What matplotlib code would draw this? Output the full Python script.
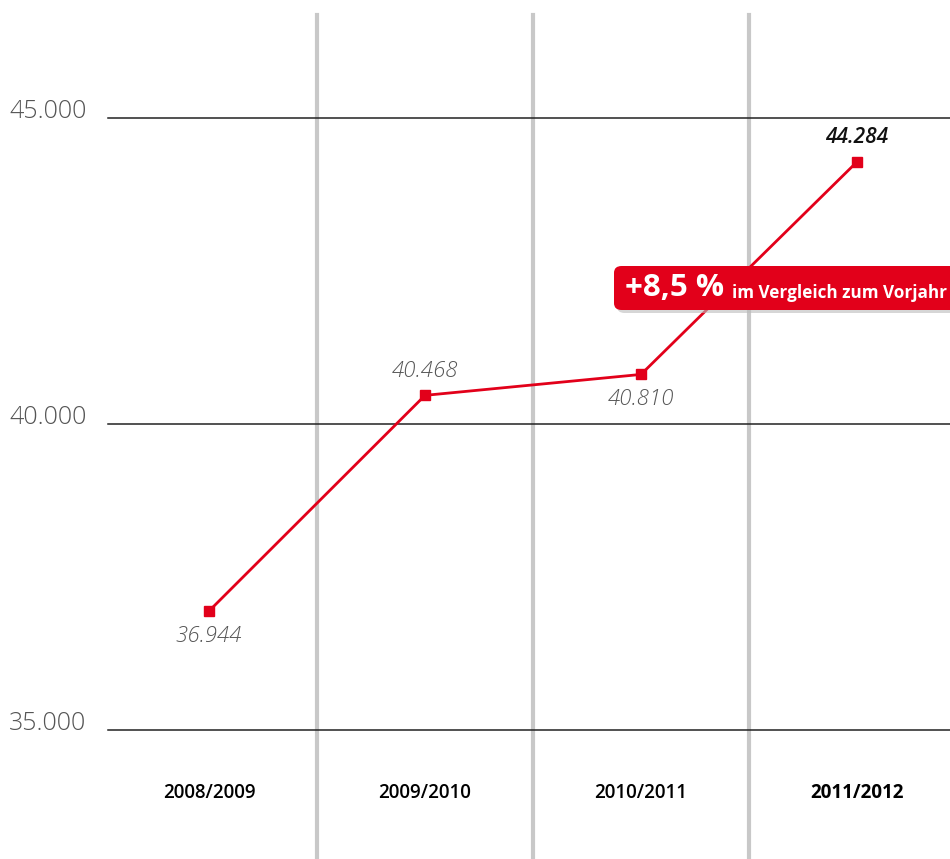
import matplotlib.pyplot as plt
from matplotlib.patches import FancyBboxPatch

# data
years = ['2008/2009', '2009/2010', '2010/2011', '2011/2012']
values = [36944, 40468, 40810, 44284]
value_labels = ['36.944', '40.468', '40.810', '44.284']
label_above = [False, True, False, True]
yticks = [35000, 40000, 45000]
ytick_labels = ['35.000', '40.000', '45.000']

red = '#e2001a'
W, H = 950, 859

fig = plt.figure(figsize=(W / 100, H / 100), dpi=100)
ax = fig.add_axes([0, 0, 1, 1])

# pixel layout: x=0 at px 209, step 216; y 45000 at px 118, 5000 per 306 px
step = 216.0
ax.set_xlim((0 - 209) / step, (W - 209) / step)
ax.set_ylim(35000 - (H - 730) / 306 * 5000, 45000 + 118 / 306 * 5000)
ax.axis('off')

# vertical separators
for xs in [0.5, 1.5, 2.5]:
    ax.axvline(xs, ymin=0, ymax=(H - 15) / H, color='#c8c8c8', lw=3, zorder=1)

# horizontal grid lines + labels
for yv, lab in zip(yticks, ytick_labels):
    ax.axhline(yv, xmin=108 / W, xmax=1, color='#222222', lw=1.1, zorder=2)
    ax.annotate(lab, xy=(0, yv), xycoords=('axes fraction', 'data'),
                xytext=(9, -6), textcoords='offset pixels', ha='left', va='bottom',
                fontsize=18, family='Open Sans', fontweight='light', color='#555555')

x = list(range(len(years)))
ax.plot(x, values, color=red, lw=2, zorder=4)
ax.plot(x, values, 's', color=red, ms=7, zorder=5)

for i, (v, lab, up) in enumerate(zip(values, value_labels, label_above)):
    last = i == len(values) - 1
    ax.annotate(lab, xy=(i, v), xytext=(0, 24 if up else -25), textcoords='offset pixels',
                ha='center', va='center', fontsize=16 if not last else 15,
                family='Open Sans', style='italic',
                fontweight='semibold' if last else 'light',
                color='#111111' if last else '#555555', zorder=6)

# category labels
for i, yr in enumerate(years):
    ax.text(i, 35000 - 63 / 306 * 5000, yr, ha='center', va='center', fontsize=13.5,
            family='Open Sans', fontweight='bold' if i == 3 else 'semibold', color='black')

# callout
shadow = FancyBboxPatch((617 / W, (H - 313) / H), (W - 614) / W + 0.02, 42 / H,
                        boxstyle='round,pad=0,rounding_size=0.008', transform=fig.transFigure,
                        fc='#bbbbbb', ec='none', alpha=0.6, zorder=7)
box = FancyBboxPatch((614 / W, (H - 310) / H), (W - 614) / W + 0.02, 44 / H,
                     boxstyle='round,pad=0,rounding_size=0.008', transform=fig.transFigure,
                     fc=red, ec='none', zorder=8)
ax.add_patch(shadow)
ax.add_patch(box)
fig.text(625 / W, (H - 288) / H, '+8,5 %', ha='left', va='center', fontsize=22.5,
         family='Open Sans', fontweight='bold', color='white', zorder=9)
fig.text(732 / W, (H - 293) / H, 'im Vergleich zum Vorjahr', ha='left', va='center',
         fontsize=12.3, family='Open Sans', fontweight='bold', color='white', zorder=9)

fig.savefig('out.png', dpi=100)
